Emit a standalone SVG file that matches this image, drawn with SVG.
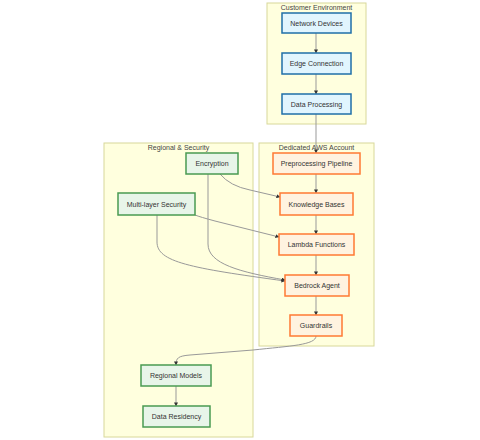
<svg xmlns="http://www.w3.org/2000/svg" width="480" height="440" viewBox="0 0 480 440">
<defs>
<marker id="arr" viewBox="0 0 10 10" refX="9" refY="5" markerUnits="userSpaceOnUse" markerWidth="4" markerHeight="4" orient="auto">
<path d="M0,0 L10,5 L0,10 z" fill="#333"/>
</marker>
<style>
.cluster{fill:#ffffde;stroke:#d8d89a;stroke-width:1}
.ctitle{font-family:"Liberation Sans",Arial,sans-serif;font-size:7px;fill:#444;text-anchor:middle}
.lbl{font-family:"Liberation Sans",Arial,sans-serif;font-size:7px;fill:#333;text-anchor:middle;dominant-baseline:central}
.blue{fill:#e1f5fe;stroke:#1f6fa8;stroke-width:1.5}
.orange{fill:#fff3e0;stroke:#ff7a33;stroke-width:1.5}
.green{fill:#e8f5e9;stroke:#4a9a52;stroke-width:1.5}
.edge{fill:none;stroke:#999;stroke-width:1;marker-end:url(#arr)}
</style>
</defs>
<rect width="480" height="440" fill="#fff"/>
<g id="clusters">
<g id="customer-env"><rect class="cluster" x="267" y="3" width="99" height="121"/><text class="ctitle" x="316.5" y="10">Customer Environment</text></g>
<g id="aws-account"><rect class="cluster" x="259" y="143" width="115" height="203"/><text class="ctitle" x="316.5" y="150">Dedicated AWS Account</text></g>
<g id="regional-security"><rect class="cluster" x="104" y="143" width="149" height="294"/><text class="ctitle" x="178.5" y="150">Regional &amp; Security</text></g>
</g>
<g id="connectors">
<path class="edge" d="M316,33 L316,53"/>
<path class="edge" d="M316,74 L316,94"/>
<path class="edge" d="M316,114 L316,153"/>
<path class="edge" d="M316,174 L316,193"/>
<path class="edge" d="M316,215 L316,234"/>
<path class="edge" d="M316,255 L316,275"/>
<path class="edge" d="M316,296 L316,315"/>
<path class="edge" d="M220,174 Q230,186 250,190 L280,197"/>
<path class="edge" d="M195,215 Q200,217 215,221 L279,237"/>
<path class="edge" d="M157,215 L157,242 C157,262 190,268 285,281"/>
<path class="edge" d="M208,174 L208,244 C208,264 240,272 285,280"/>
<path class="edge" d="M316,336 C316,345 290,346 253,350 L190,355 C178,356 176,358 176,365"/>
<path class="edge" d="M176,386 L176,406"/>
</g>
<g id="network-devices"><rect class="blue" x="282" y="13" width="69" height="20"/><text class="lbl" x="316.5" y="23">Network Devices</text></g>
<g id="edge-connection"><rect class="blue" x="282" y="53" width="69" height="21"/><text class="lbl" x="316.5" y="63.5">Edge Connection</text></g>
<g id="data-processing"><rect class="blue" x="282" y="94" width="69" height="20"/><text class="lbl" x="316.5" y="104">Data Processing</text></g>
<g id="preprocessing-pipeline"><rect class="orange" x="273" y="153" width="87" height="21"/><text class="lbl" x="316.5" y="163.5">Preprocessing Pipeline</text></g>
<g id="knowledge-bases"><rect class="orange" x="280" y="193" width="73" height="22"/><text class="lbl" x="316.5" y="204">Knowledge Bases</text></g>
<g id="lambda-functions"><rect class="orange" x="279" y="234" width="75" height="21"/><text class="lbl" x="316.5" y="244.5">Lambda Functions</text></g>
<g id="bedrock-agent"><rect class="orange" x="285" y="275" width="64" height="21"/><text class="lbl" x="317" y="285.5">Bedrock Agent</text></g>
<g id="guardrails"><rect class="orange" x="290" y="315" width="52" height="21"/><text class="lbl" x="316" y="325.5">Guardrails</text></g>
<g id="encryption"><rect class="green" x="186" y="153" width="52" height="21"/><text class="lbl" x="212" y="163.5">Encryption</text></g>
<g id="multi-layer-security"><rect class="green" x="118" y="193" width="77" height="22"/><text class="lbl" x="156.5" y="204">Multi-layer Security</text></g>
<g id="regional-models"><rect class="green" x="141" y="365" width="70" height="21"/><text class="lbl" x="176" y="375.5">Regional Models</text></g>
<g id="data-residency"><rect class="green" x="143" y="406" width="67" height="21"/><text class="lbl" x="176.5" y="416.5">Data Residency</text></g>
</svg>
